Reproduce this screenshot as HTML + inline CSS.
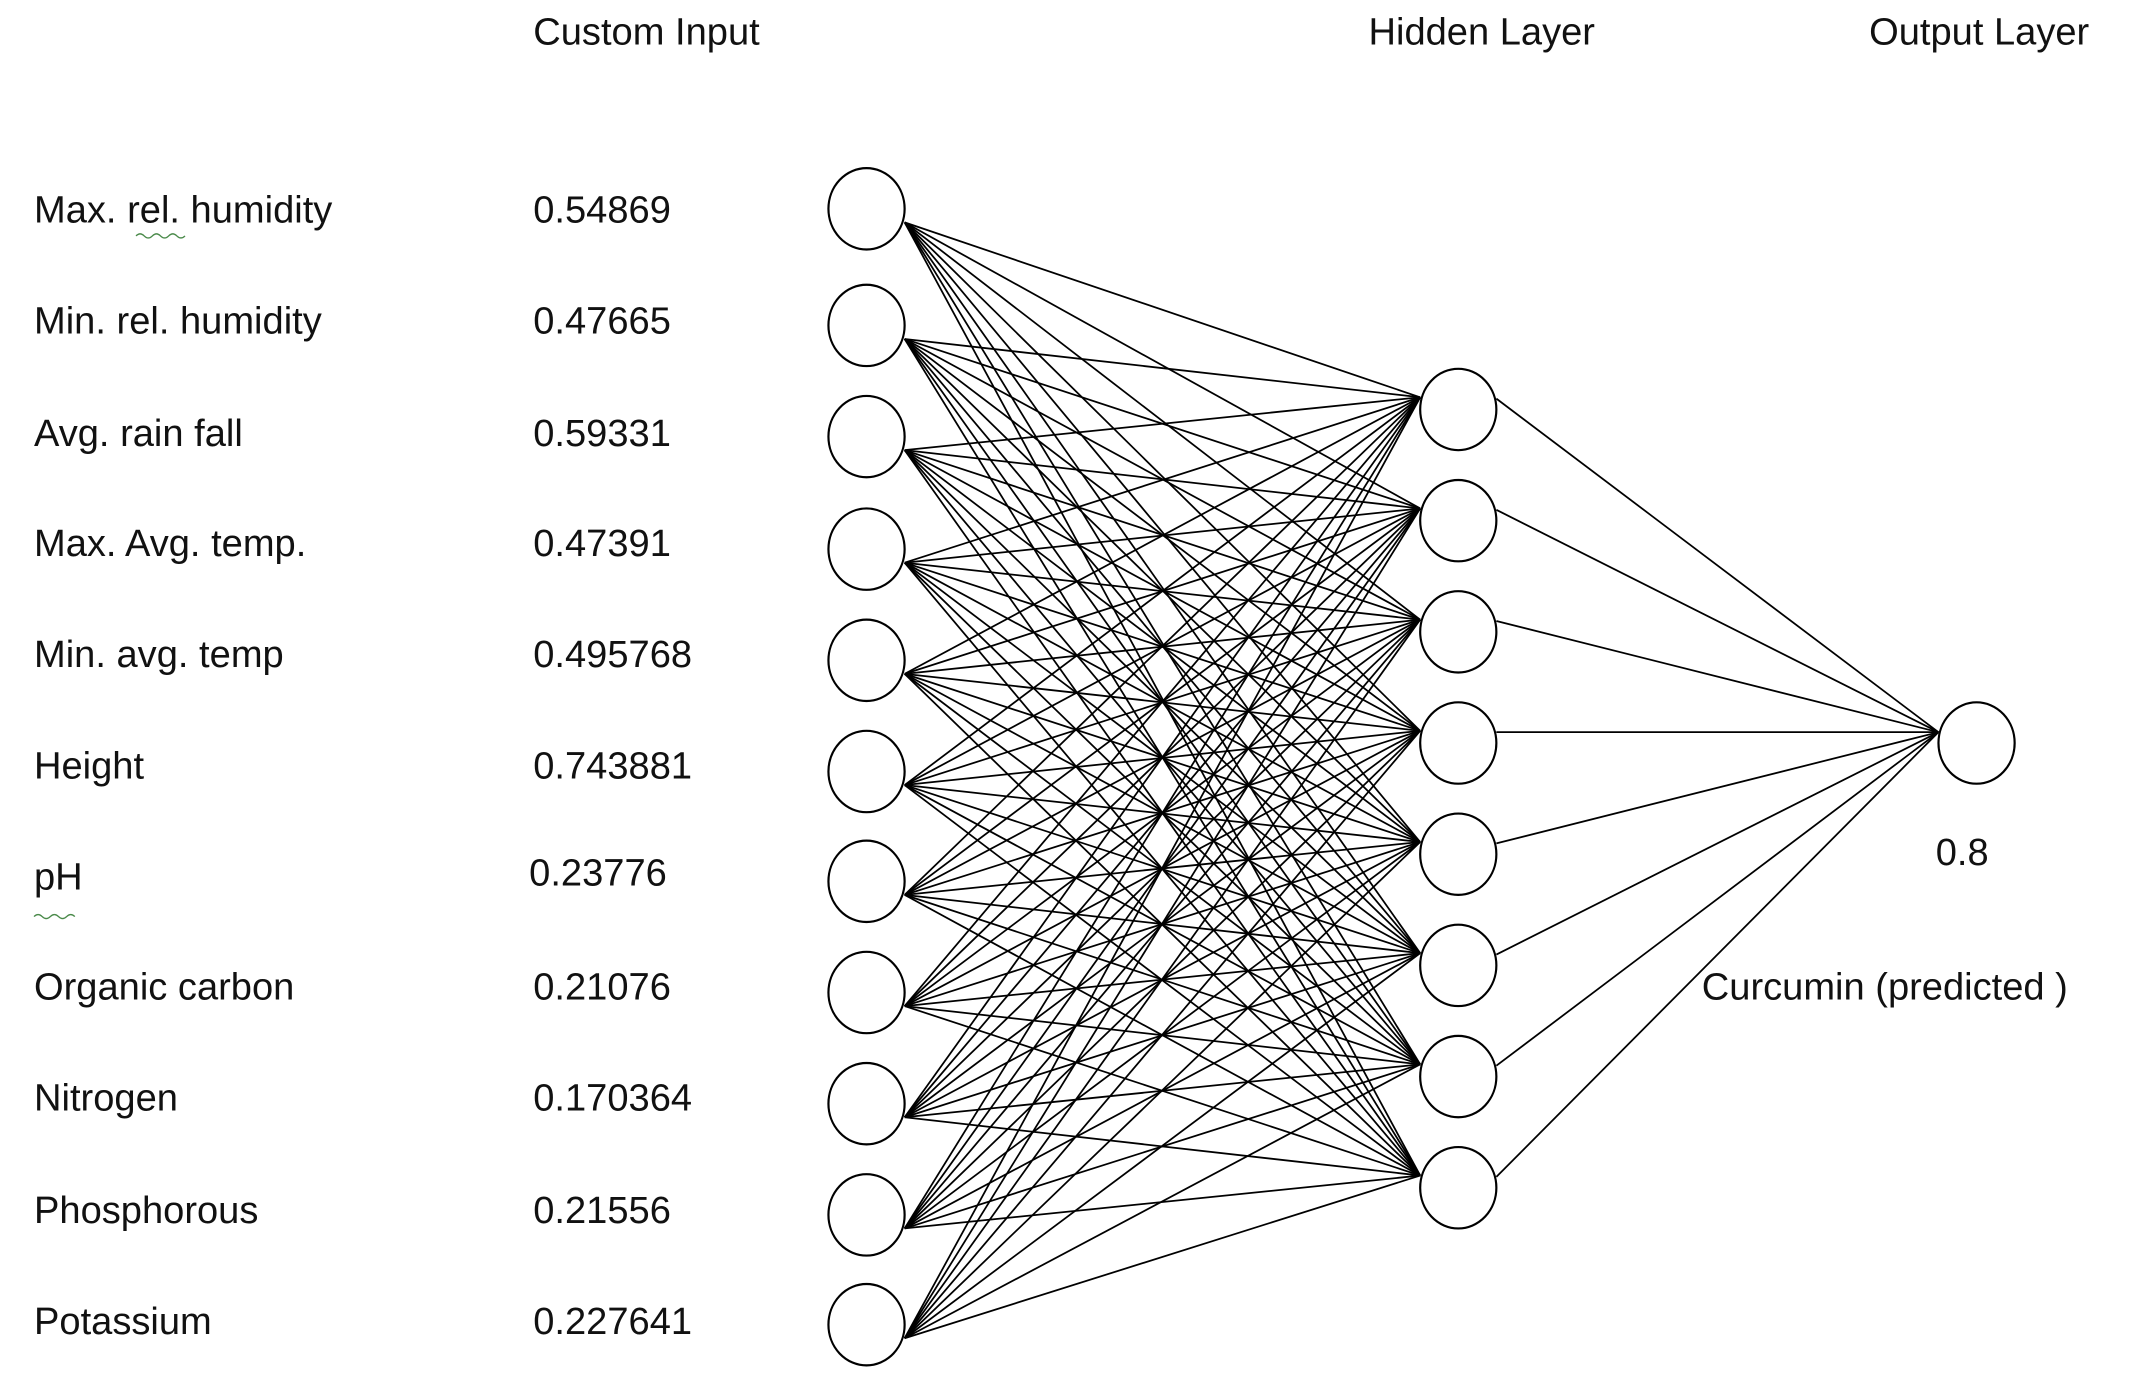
<!DOCTYPE html>
<html><head><style>
html,body{margin:0;padding:0;background:#fff;}
svg{display:block;}
text{font-family:"Liberation Sans",sans-serif;font-size:28px;fill:#111;}
</style></head><body>
<svg width="2133" height="1383" viewBox="0 0 1568 1020" preserveAspectRatio="none" xmlns="http://www.w3.org/2000/svg">
<text x="392" y="33">Custom Input</text>
<text x="1006" y="33">Hidden Layer</text>
<text x="1374" y="33">Output Layer</text>
<g>
<text x="25" y="164">Max. rel. humidity</text>
<text x="25" y="246">Min. rel. humidity</text>
<text x="25" y="329">Avg. rain fall</text>
<text x="25" y="410">Max. Avg. temp.</text>
<text x="25" y="492">Min. avg. temp</text>
<text x="25" y="574">Height</text>
<text x="25" y="656">pH</text>
<text x="25" y="737">Organic carbon</text>
<text x="25" y="819">Nitrogen</text>
<text x="25" y="902">Phosphorous</text>
<text x="25" y="984">Potassium</text>
<text x="392" y="164">0.54869</text>
<text x="392" y="246">0.47665</text>
<text x="392" y="329">0.59331</text>
<text x="392" y="410">0.47391</text>
<text x="392" y="492">0.495768</text>
<text x="392" y="574">0.743881</text>
<text x="389" y="653">0.23776</text>
<text x="392" y="737">0.21076</text>
<text x="392" y="819">0.170364</text>
<text x="392" y="902">0.21556</text>
<text x="392" y="984">0.227641</text>
<text x="1423" y="638">0.8</text>
<text x="1251" y="737">Curcumin (predicted )</text>
</g>
<path d="M100 174 q3 -3 6 0 t6 0 t6 0 t6 0 t6 0 t6 0" stroke="#4a8a4a" fill="none" stroke-width="1"/>
<path d="M25 676 q3 -3 6 0 t6 0 t6 0 t6 0 t6 0" stroke="#4a8a4a" fill="none" stroke-width="1"/>
<g id="lines" stroke="#000" stroke-width="1.3" fill="none"></g>
<g id="nodes" stroke="#000" stroke-width="1.6" fill="#fff"></g>
<script>
var ins=[154,240,322,405,487,569,650,732,814,896,977];
var hid=[302,384,466,548,630,712,794,876];
var L=document.getElementById('lines'),N=document.getElementById('nodes');
var ns='http://www.w3.org/2000/svg';
function line(x1,y1,x2,y2){var l=document.createElementNS(ns,'line');l.setAttribute('x1',x1);l.setAttribute('y1',y1);l.setAttribute('x2',x2);l.setAttribute('y2',y2);L.appendChild(l);}
function ell(cx,cy,rx,ry){var e=document.createElementNS(ns,'ellipse');e.setAttribute('cx',cx);e.setAttribute('cy',cy);e.setAttribute('rx',rx);e.setAttribute('ry',ry);N.appendChild(e);}
ins.forEach(function(a){hid.forEach(function(b){line(665,a+10,1044,b-9);});});
hid.forEach(function(b){line(1100,b-8,1425,540);});
ins.forEach(function(a){ell(637,a,28,30);});
hid.forEach(function(b){ell(1072,b,28,30);});
ell(1453,548,28,30);
</script>
</svg>
</body></html>
